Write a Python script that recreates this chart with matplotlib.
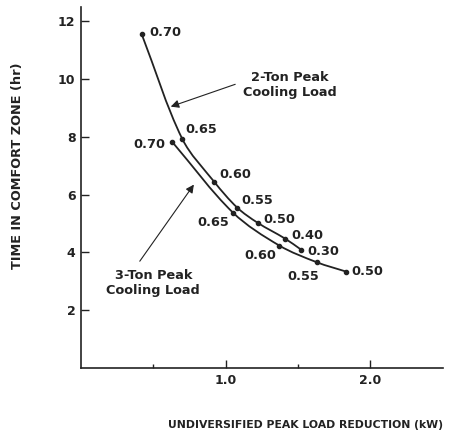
import matplotlib
matplotlib.use("Agg")
import matplotlib.pyplot as plt
from matplotlib.path import Path
from matplotlib.patches import PathPatch
import numpy as np

# 2-ton peak cooling load curve
two_x = [0.42, 0.70, 0.92, 1.08, 1.22, 1.41, 1.52]
two_y = [11.55, 7.93, 6.45, 5.55, 5.03, 4.48, 4.10]
two_lbl = ["0.70", "0.65", "0.60", "0.55", "0.50", "0.40", "0.30"]
two_off = [(8, 2), (3, 9), (5, 7), (4, 7), (6, 3), (6, 3), (6, -2)]
two_ha = ["left"] * 7

# 3-ton peak cooling load curve
three_x = [0.63, 1.05, 1.37, 1.63, 1.83]
three_y = [7.83, 5.38, 4.24, 3.66, 3.34]
three_lbl = ["0.70", "0.65", "0.60", "0.55", "0.50"]
three_off = [(-7, -3), (-4, -10), (-3, -10), (-14, -14), (6, 0)]
three_ha = ["right", "right", "right", "center", "left"]

INK = "#222222"
plt.rcParams['font.family'] = ['DejaVu Sans']


def smooth_path(xs, ys, sx=147.0, sy=29.0):
    # chord-length catmull-rom through the points, as cubic bezier segments
    p = np.column_stack([xs, ys]).astype(float)
    q = p * [sx, sy]
    t = np.concatenate([[0], np.cumsum(np.hypot(*np.diff(q, axis=0).T))])
    n = len(p)
    m = np.zeros_like(p)
    for i in range(n):
        a, b = max(i - 1, 0), min(i + 1, n - 1)
        m[i] = (p[b] - p[a]) / (t[b] - t[a])
    verts = [p[0]]
    codes = [Path.MOVETO]
    for i in range(n - 1):
        h = t[i + 1] - t[i]
        verts += [p[i] + m[i] * h / 3, p[i + 1] - m[i + 1] * h / 3, p[i + 1]]
        codes += [Path.CURVE4] * 3
    return Path(verts, codes)


fig = plt.figure(figsize=(4.5, 4.36), dpi=100)
ax = fig.add_axes([0.18, 0.156, 0.804, 0.828])

for xs, ys, lbls, offs, has in [(two_x, two_y, two_lbl, two_off, two_ha),
                                (three_x, three_y, three_lbl, three_off, three_ha)]:
    ax.add_patch(PathPatch(smooth_path(xs, ys), fill=False, ec=INK, lw=1.3))
    ax.plot(xs, ys, 'o', ms=3, color=INK)
    for x, y, t, o, ha in zip(xs, ys, lbls, offs, has):
        ax.annotate(t, (x, y), xytext=o, textcoords='offset pixels',
                    ha=ha, va='center', fontsize=9.3, fontweight='bold', color=INK)

ax.annotate("2-Ton Peak\nCooling Load", xy=(0.62, 9.05), xytext=(1.445, 9.8),
            ha='center', va='center', fontsize=9.3, fontweight='bold', color=INK,
            linespacing=1.25,
            arrowprops=dict(arrowstyle='-|>', color=INK, lw=0.8, mutation_scale=12,
                            shrinkA=4, shrinkB=0, relpos=(0.0, 0.62)))
ax.annotate("3-Ton Peak\nCooling Load", xy=(0.78, 6.35), xytext=(0.5, 2.95),
            ha='center', va='center', fontsize=9.3, fontweight='bold', color=INK,
            linespacing=1.25,
            arrowprops=dict(arrowstyle='-|>', color=INK, lw=0.8, mutation_scale=12,
                            shrinkA=4, shrinkB=0, relpos=(0.3, 1.0)))

ax.set_xlim(0, 2.5)
ax.set_ylim(0, 12.5)
ax.set_yticks([2, 4, 6, 8, 10, 12])
ax.set_xticks([1.0, 2.0])
ax.set_xticklabels(["1.0", "2.0"])
ax.set_xticks([0.5, 1.5], minor=True)
ax.tick_params(axis='both', direction='in', length=6, width=1, color=INK,
               labelsize=9, labelcolor=INK, pad=4)
ax.tick_params(axis='x', which='minor', direction='in', length=3, width=1, color=INK)
for lab in ax.get_xticklabels() + ax.get_yticklabels():
    lab.set_fontweight('bold')
for s in ['top', 'right']:
    ax.spines[s].set_visible(False)
for s in ['left', 'bottom']:
    ax.spines[s].set_linewidth(1.2)
    ax.spines[s].set_color(INK)

fig.text(0.04, 0.62, "TIME IN COMFORT ZONE (hr)", rotation=90, ha='center', va='center',
         fontsize=9.3, fontweight='bold', color=INK)
fig.text(0.678, 0.025, "UNDIVERSIFIED PEAK LOAD REDUCTION (kW)", ha='center', va='center',
         fontsize=7.8, fontweight='bold', color=INK)

fig.savefig("out.png", dpi=100)
